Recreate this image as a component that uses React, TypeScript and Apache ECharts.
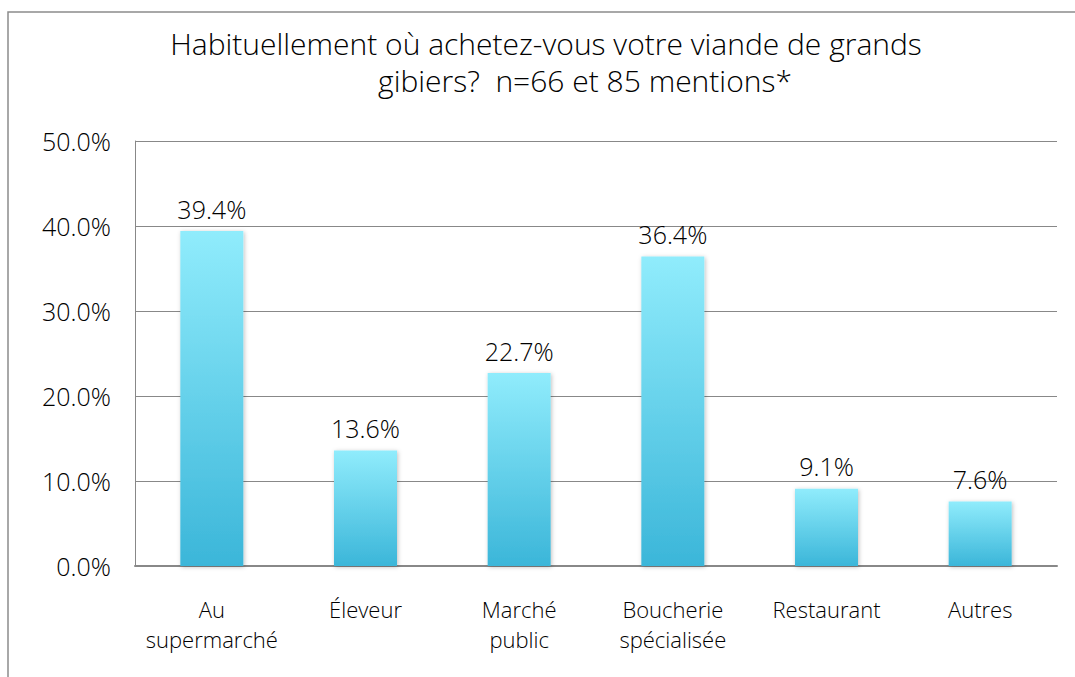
import React, { useEffect, useRef } from "react";
import * as echarts from "echarts";

const categories = ["Au\nsupermarché", "Éleveur", "Marché\npublic", "Boucherie\nspécialisée", "Restaurant", "Autres"];
const values = [39.4, 13.6, 22.7, 36.4, 9.1, 7.6];
const titleLine1 = "Habituellement où achetez-vous votre viande de grands";
const titleLine2 = "gibiers?  n=66 et 85 mentions*";

const FONT = "Open Sans";
const WEIGHT = 300;

export default function App() {
  const ref = useRef<HTMLDivElement>(null);
  useEffect(() => {
    if (!ref.current) return;
    const chart = echarts.init(ref.current, undefined, { renderer: "svg" });
    chart.setOption({
      animation: false,
      backgroundColor: "#ffffff",
      textStyle: { fontFamily: FONT },
      graphic: [
        {
          type: "rect",
          shape: { x: 8, y: 12, width: 1200, height: 800 },
          style: { fill: "none", stroke: "#8c8c8c", lineWidth: 1.5 },
          silent: true,
        },
        {
          type: "text",
          x: 546,
          y: 43,
          style: { text: titleLine1, fontFamily: FONT, fontWeight: WEIGHT, fontSize: 30, fill: "#000", align: "center", verticalAlign: "middle" },
        },
        {
          type: "text",
          x: 585,
          y: 80,
          style: { text: titleLine2, fontFamily: FONT, fontWeight: WEIGHT, fontSize: 30, fill: "#000", align: "center", verticalAlign: "middle" },
        },
      ],
      grid: { left: 135, right: 18, top: 141, bottom: 111 },
      xAxis: {
        type: "category",
        data: categories,
        axisLine: { show: true, lineStyle: { color: "#888", width: 2 } },
        axisTick: { show: false },
        axisLabel: { color: "#000", fontSize: 22, fontWeight: WEIGHT, fontFamily: FONT, lineHeight: 30, margin: 28, interval: 0 },
      },
      yAxis: {
        type: "value",
        min: 0,
        max: 50,
        interval: 10,
        axisLine: { show: true, lineStyle: { color: "#888", width: 1 } },
        axisTick: { show: false },
        splitLine: { lineStyle: { color: "#888", width: 1 } },
        axisLabel: { color: "#000", fontSize: 25, fontWeight: WEIGHT, fontFamily: FONT, margin: 24, formatter: (v: number) => v.toFixed(1) + "%" },
      },
      series: [
        {
          type: "bar",
          data: values,
          barWidth: 63,
          itemStyle: {
            color: new echarts.graphic.LinearGradient(0, 0, 0, 1, [
              { offset: 0, color: "#90ecfc" },
              { offset: 1, color: "#3bb6d9" },
            ]),
            shadowColor: "rgba(0,0,0,0.25)",
            shadowBlur: 4,
            shadowOffsetX: 1,
            shadowOffsetY: 1,
          },
          label: {
            show: true,
            position: "top",
            distance: 10,
            color: "#000",
            fontSize: 25,
            fontWeight: WEIGHT,
            fontFamily: FONT,
            formatter: (p: any) => p.value.toFixed(1) + "%",
          },
        },
      ],
    });
    return () => chart.dispose();
  }, []);
  return <div ref={ref} style={{ position: "fixed", left: 0, top: 0, width: 1075, height: 677 }} />;
}
